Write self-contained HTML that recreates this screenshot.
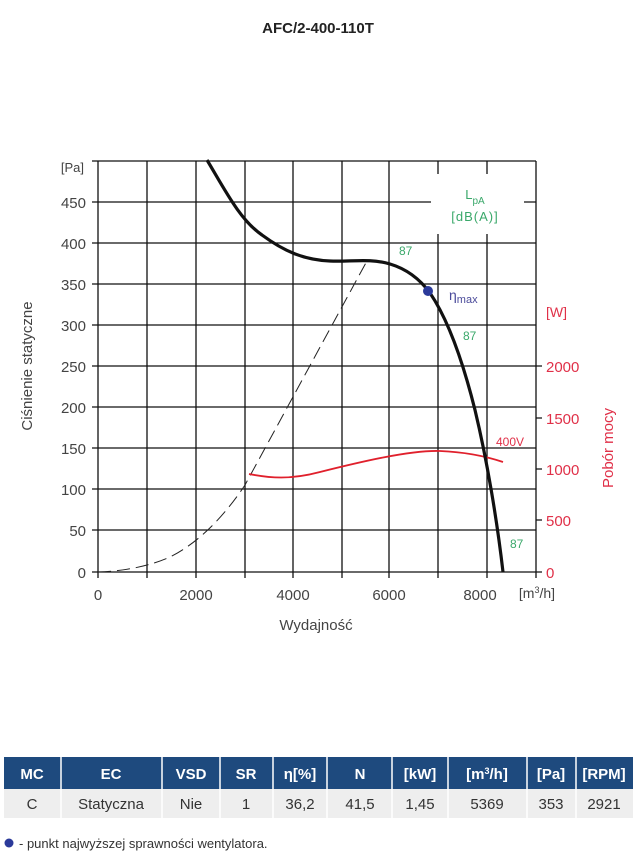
<!DOCTYPE html>
<html><head><meta charset="utf-8"><style>
body{margin:0;background:#fff;width:637px;height:859px;overflow:hidden;font-family:"Liberation Sans",sans-serif}
</style></head><body>
<svg width="637" height="859" xmlns="http://www.w3.org/2000/svg" style="position:absolute;left:0;top:0" font-family="Liberation Sans, sans-serif">
<text x="318" y="33" font-size="15" font-weight="bold" fill="#222" text-anchor="middle">AFC/2-400-110T</text>
<g stroke="#111" stroke-width="1.3" fill="none">
<path d="M98,161V578M147,161V578M196,161V578M245,161V578M293,161V578M342,161V578M389,161V578M438,161V578M487,161V578M536,161V578"/>
<path d="M92,161H536M92,202H536M92,243H536M92,284H536M92,325H536M92,366H536M92,407H536M92,448H536M92,489H536M92,530H536M92,572H536"/>
<path d="M536,572H542M536,520H542M536,469H542M536,418H542M536,366H542"/>
</g>
<rect x="431" y="174" width="93" height="60" fill="#fff"/>
<text x="475" y="199" font-size="13" fill="#3aa86a" text-anchor="middle">L<tspan font-size="10" dy="5">pA</tspan></text>
<text x="475" y="221" font-size="13" fill="#3aa86a" text-anchor="middle" letter-spacing="1">[dB(A)]</text>
<g font-size="15" fill="#444" text-anchor="end">
<text x="84" y="172" font-size="13">[Pa]</text>
<text x="86" y="208">450</text><text x="86" y="249">400</text><text x="86" y="290">350</text><text x="86" y="331">300</text><text x="86" y="372">250</text><text x="86" y="413">200</text><text x="86" y="454">150</text><text x="86" y="495">100</text><text x="86" y="536">50</text><text x="86" y="578">0</text>
</g>
<g font-size="15" fill="#444" text-anchor="middle">
<text x="98" y="600">0</text><text x="196" y="600">2000</text><text x="293" y="600">4000</text><text x="389" y="600">6000</text><text x="480" y="600">8000</text>
<text x="537" y="598" font-size="14">[m<tspan font-size="9" dy="-5">3</tspan><tspan dy="5">/h]</tspan></text>
<text x="316" y="630" font-size="15">Wydajność</text>
</g>
<text transform="translate(32,366) rotate(-90)" font-size="15" fill="#444" text-anchor="middle">Ciśnienie statyczne</text>
<g font-size="15" fill="#e03048">
<text x="546" y="317" font-size="14">[W]</text>
<text x="546" y="372">2000</text><text x="546" y="424">1500</text><text x="546" y="475">1000</text><text x="546" y="526">500</text><text x="546" y="578">0</text>
<text transform="translate(613,448) rotate(-90)" text-anchor="middle">Pobór mocy</text>
<text x="496" y="446" font-size="12">400V</text>
</g>
<path d="M98,572 C125,571 150,566 170,557 C200,542 225,515 245,485 L368,259" fill="none" stroke="#222" stroke-width="1" stroke-dasharray="13,6"/>
<path d="M249,474 C270,478 290,480 320,472 C360,462 410,450 440,451 C465,452 485,456 503,462" fill="none" stroke="#e0202c" stroke-width="1.8"/>
<path d="M207,160 C225,190 240,220 262,235 C285,252 305,260 330,261 C350,262 370,258 390,264 C410,270 422,282 430,293 C445,315 460,350 475,410 C487,460 497,520 503,572" fill="none" stroke="#111" stroke-width="3.2"/>
<circle cx="428" cy="291" r="5" fill="#2b3a9a"/>
<text x="449" y="300" font-size="14" fill="#4a4a9a">η<tspan font-size="11" dy="3">max</tspan></text>
<g font-size="12" fill="#3aa86a"><text x="399" y="255">87</text><text x="463" y="340">87</text><text x="510" y="548">87</text></g>
<rect x="4" y="757" width="629" height="32" fill="#1e4a7e"/>
<rect x="4" y="789" width="629" height="29" fill="#eeeeee"/>
<g stroke="#fff" stroke-width="1.5"><path d="M61,757V818M162,757V818M220,757V818M273,757V818M327,757V818M392,757V818M448,757V818M527,757V818M576,757V818"/></g>
<g font-size="15" font-weight="bold" fill="#fff" text-anchor="middle">
<text x="32" y="779">MC</text><text x="111" y="779">EC</text><text x="191" y="779">VSD</text><text x="246" y="779">SR</text><text x="300" y="779">η[%]</text><text x="360" y="779">N</text><text x="420" y="779">[kW]</text><text x="487" y="779">[m<tspan font-size="9" dy="-5">3</tspan><tspan dy="5">/h]</tspan></text><text x="551" y="779">[Pa]</text><text x="604" y="779">[RPM]</text>
</g>
<g font-size="15" fill="#333" text-anchor="middle">
<text x="32" y="809">C</text><text x="111" y="809">Statyczna</text><text x="191" y="809">Nie</text><text x="246" y="809">1</text><text x="300" y="809">36,2</text><text x="360" y="809">41,5</text><text x="420" y="809">1,45</text><text x="487" y="809">5369</text><text x="551" y="809">353</text><text x="604" y="809">2921</text>
</g>
<circle cx="9" cy="843" r="4.5" fill="#2b3a9a"/>
<text x="19" y="848" font-size="13" fill="#333">- punkt najwyższej sprawności wentylatora.</text>
</svg>
</body></html>
